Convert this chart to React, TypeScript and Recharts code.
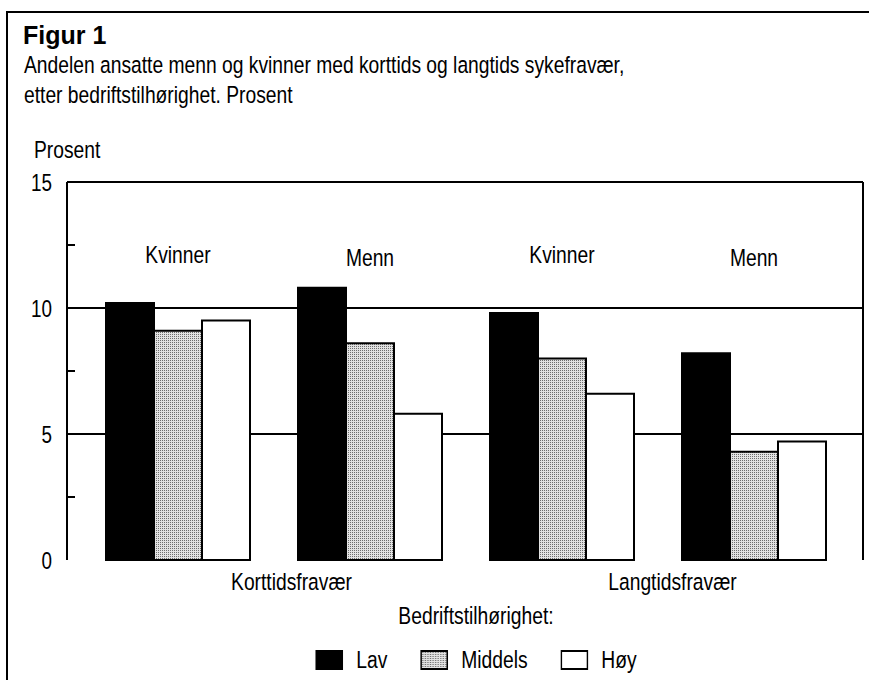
import React from 'react';
import { BarChart, Bar, XAxis, YAxis, CartesianGrid, Legend } from 'recharts';

const categories = ['Kvinner', 'Menn', 'Kvinner', 'Menn'];
const groups = ['Korttidsfravær', 'Korttidsfravær', 'Langtidsfravær', 'Langtidsfravær'];
const lav = [10.2, 10.8, 9.8, 8.2];
const middels = [9.1, 8.6, 8.0, 4.3];
const hoy = [9.5, 5.8, 6.6, 4.7];
const seriesNames = ['Lav', 'Middels', 'Høy'];
const yTicks = [0, 2.5, 5, 7.5, 10, 12.5, 15];
const gridValues = [5, 10];
const titleText = 'Figur 1';
const subtitleLines = [
  'Andelen ansatte menn og kvinner med korttids og langtids sykefravær,',
  'etter bedriftstilhørighet. Prosent',
];
const yLabel = 'Prosent';
const legendTitle = 'Bedriftstilhørighet:';

const data = categories.map((c, i) => ({
  sex: c,
  group: groups[i],
  [seriesNames[0]]: lav[i],
  [seriesNames[1]]: middels[i],
  [seriesNames[2]]: hoy[i],
}));

const FONT = '"Liberation Sans", Arial, Helvetica, sans-serif';
const SX = 0.82; // Helvetica Narrow = Helvetica horizontally scaled to 82%
const fills = ['#000000', 'url(#dots)', '#ffffff'];
const LINE = 2;

const NText = ({ x, y, anchor = 'start', size = 23.5, children }: any) => (
  <text
    x={x / SX}
    y={y}
    transform={`scale(${SX},1)`}
    textAnchor={anchor}
    fontFamily={FONT}
    fontSize={size}
    fill="#000"
  >
    {children}
  </text>
);

const YTick = (props: any) => {
  const { x, y, payload } = props;
  const v = payload.value;
  if (v % 5 === 0) {
    return (
      <NText x={x - 15} y={y + 9} anchor="end" size={23}>
        {v}
      </NText>
    );
  }
  return <line x1={x} x2={x + 8} y1={y} y2={y} stroke="#000" strokeWidth={LINE} />;
};

const TopTick = (props: any) => {
  const { x, y, payload, index } = props;
  return (
    <NText x={x} y={y + (index % 2 === 0 ? 81 : 84)} anchor="middle">
      {payload.value}
    </NText>
  );
};

const GroupTick = (props: any) => {
  const { x, y, payload } = props;
  return (
    <NText x={x} y={y + 30} anchor="middle">
      {payload.value}
    </NText>
  );
};

const LegendContent = () => (
  <div
    style={{
      fontFamily: FONT,
      fontSize: 23.5,
      color: '#000',
      textAlign: 'center',
      transform: `scaleX(${SX})`,
      transformOrigin: '50% 0',
    }}
  >
    <div style={{ lineHeight: '28px', marginTop: 6 }}>{legendTitle}</div>
    <div style={{ display: 'flex', justifyContent: 'center', alignItems: 'center', marginTop: 16, lineHeight: '28px' }}>
      {seriesNames.map((n, i) => (
        <div
          key={n}
          style={{ display: 'flex', alignItems: 'center', marginRight: i < seriesNames.length - 1 ? 40 : 0 }}
        >
          <svg width={34} height={20} style={{ marginRight: 16 }}>
            <defs>
              <pattern id={'ldots' + i} width="2" height="2" patternUnits="userSpaceOnUse">
                <rect width="2" height="2" fill="#e2e2e2" />
                <rect width="1" height="1" fill="#6e6e6e" />
              </pattern>
            </defs>
            <rect
              x={1}
              y={1}
              width={32}
              height={18}
              fill={i === 1 ? 'url(#ldots' + i + ')' : fills[i]}
              stroke="#000"
              strokeWidth={2}
            />
          </svg>
          <span>{n}</span>
        </div>
      ))}
    </div>
  </div>
);

export default function App() {
  return (
    <div style={{ position: 'absolute', left: 0, top: 0, width: 869, height: 680, background: '#fff', overflow: 'hidden' }}>
      <div
        style={{
          position: 'absolute',
          left: 6,
          top: 11,
          width: 880,
          height: 700,
          borderLeft: '2px solid #000',
          borderTop: '2px solid #000',
        }}
      />
      <svg width={869} height={180} style={{ position: 'absolute', left: 0, top: 0 }}>
        <text x={23} y={44} fontFamily={FONT} fontWeight="bold" fontSize={25} fill="#000">
          {titleText}
        </text>
        {subtitleLines.map((l, i) => (
          <NText key={i} x={24} y={73 + i * 30}>
            {l}
          </NText>
        ))}
        <NText x={34} y={158}>
          {yLabel}
        </NText>
      </svg>
      <div style={{ position: 'absolute', left: 0, top: 0 }}>
        <BarChart
          width={869}
          height={680}
          data={data}
          margin={{ top: 181, right: 5, left: 0, bottom: 80 }}
          barCategoryGap={24}
          barGap={0}
        >
          <defs>
            <pattern id="dots" width="2" height="2" patternUnits="userSpaceOnUse">
              <rect width="2" height="2" fill="#e2e2e2" />
              <rect width="1" height="1" fill="#6e6e6e" />
            </pattern>
          </defs>
          <CartesianGrid horizontal vertical={false} horizontalValues={gridValues} stroke="#000" strokeWidth={LINE} />
          <XAxis
            dataKey="sex"
            height={0}
            tick={false}
            tickLine={false}
            axisLine={{ stroke: '#000', strokeWidth: LINE }}
            padding={{ left: 15, right: 13 }}
          />
          <XAxis
            xAxisId="grp"
            dataKey="group"
            allowDuplicatedCategory={false}
            height={40}
            tickSize={0}
            tickMargin={0}
            tickLine={false}
            axisLine={false}
            tick={<GroupTick />}
            padding={{ left: 34, right: 0 }}
          />
          <XAxis
            xAxisId="top"
            dataKey="sex"
            orientation="top"
            height={1}
            tickSize={0}
            tickMargin={0}
            tickLine={false}
            axisLine={{ stroke: '#000', strokeWidth: LINE }}
            tick={<TopTick />}
            padding={{ left: 15, right: 13 }}
            interval={0}
          />
          <YAxis
            domain={[0, 15]}
            ticks={yTicks}
            interval={0}
            width={67}
            tickSize={0}
            tickMargin={0}
            tickLine={false}
            axisLine={{ stroke: '#000', strokeWidth: LINE }}
            tick={<YTick />}
          />
          <YAxis
            yAxisId="r"
            orientation="right"
            domain={[0, 15]}
            width={1}
            tick={false}
            tickLine={false}
            axisLine={{ stroke: '#000', strokeWidth: LINE }}
          />
          <Legend
            verticalAlign="middle"
            align="center"
            content={<LegendContent />}
            wrapperStyle={{ top: 596, left: 0, width: 952, height: 84 }}
          />
          {seriesNames.map((n, i) => (
            <Bar key={n} dataKey={n} fill={fills[i]} stroke="#000" strokeWidth={LINE} isAnimationActive={false} />
          ))}
        </BarChart>
      </div>
    </div>
  );
}
